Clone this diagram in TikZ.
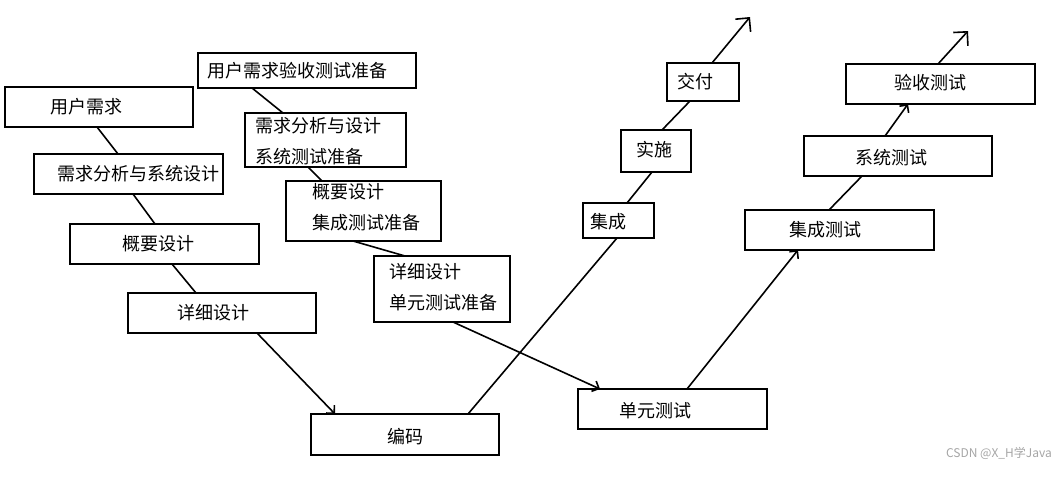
\documentclass[tikz,border=0pt]{standalone}
\usepackage{fontspec}
\newfontfamily\cjk{Noto Sans CJK SC}
\usetikzlibrary{arrows.meta}
\newcommand\mybox[5]{\node[box,minimum width={(#4-#2)*1pt},minimum height={(#5-#3)*1pt}] (#1) at (#2,#3) {};}
\begin{document}
\begin{tikzpicture}[x=1pt,y=-1pt,
  box/.style={draw,line width=1.8pt,inner sep=0pt,outer sep=0pt,anchor=north west},
  txt/.style={inner sep=0pt,anchor=west,align=left,font={\cjk\fontsize{18}{31}\selectfont}},
  conn/.style={line width=1.6pt},
  bigtip/.style={-{Straight Barb[angle=90:14pt]}},
  smalltip/.style={-{Straight Barb[angle=90:8pt]}}]
\useasboundingbox (0,0) rectangle (1054,482);
\fill[white] (0,0) rectangle (1054,482);
% boxes
\mybox{b1}{5}{87}{193}{127}
\mybox{b2}{34}{154}{223}{194}
\mybox{b3}{70}{224}{259}{264}
\mybox{b4}{128}{293}{316}{333}
\mybox{b5}{198}{53}{416}{88}
\mybox{b6}{245}{113}{406}{167}
\mybox{b7}{286}{181}{441}{241}
\mybox{b8}{374}{256}{510}{322}
\mybox{b9}{311}{414}{499}{455}
\mybox{b10}{578}{389}{767}{429}
\mybox{b11}{583}{203}{654}{238}
\mybox{b12}{621}{130}{691}{172}
\mybox{b13}{667}{63}{739}{101}
\mybox{b14}{745}{210}{934}{250}
\mybox{b15}{804}{136}{992}{176}
\mybox{b16}{846}{64}{1035}{104}
% texts
\node[txt] (t1) at (50,107) {用户需求};
\node[txt] (t2) at (57,174) {需求分析与系统设计};
\node[txt] (t3) at (122,244) {概要设计};
\node[txt] (t4) at (177,313) {详细设计};
\node[txt] (t5) at (207,71) {用户需求验收测试准备};
\node[txt] (t6) at (255,141.5) {需求分析与设计\\系统测试准备};
\node[txt] (t7) at (312,207.5) {概要设计\\集成测试准备};
\node[txt] (t8) at (389,287.5) {详细设计\\单元测试准备};
\node[txt] (t9) at (387,437) {编码};
\node[txt] (t10) at (619,411) {单元测试};
\node[txt] (t11) at (590,222) {集成};
\node[txt] (t12) at (636,150) {实施};
\node[txt] (t13) at (677,82) {交付};
\node[txt] (t14) at (789,230) {集成测试};
\node[txt] (t15) at (855,158) {系统测试};
\node[txt] (t16) at (894,83) {验收测试};
% end points of the open arrows
\coordinate (e1) at (750,17);
\coordinate (e2) at (968,31);
% connectors
\draw[conn] ([xshift=92pt]b1.south west) -- ([xshift=84pt]b2.north west);
\draw[conn] ([xshift=99pt]b2.south west) -- ([xshift=85pt]b3.north west);
\draw[conn] ([xshift=102pt]b3.south west) -- ([xshift=68pt]b4.north west);
\draw[conn,smalltip] ([xshift=129pt]b4.south west) -- ([xshift=24pt]b9.north west);
\draw[conn] ([xshift=54pt]b5.south west) -- ([xshift=38pt]b6.north west);
\draw[conn] ([xshift=63pt]b6.south west) -- ([xshift=36pt]b7.north west);
\draw[conn] ([xshift=67pt]b7.south west) -- ([xshift=31pt]b8.north west);
\draw[conn,smalltip] ([xshift=79pt]b8.south west) -- ([xshift=22pt]b10.north west);
\draw[conn] ([xshift=157pt]b9.north west) -- ([xshift=34pt]b11.south west);
\draw[conn] ([xshift=44pt]b11.north west) -- ([xshift=31pt]b12.south west);
\draw[conn] ([xshift=41pt]b12.north west) -- ([xshift=23pt]b13.south west);
\draw[conn,bigtip] ([xshift=45pt]b13.north west) -- (e1);
\draw[conn,smalltip] ([xshift=109pt]b10.north west) -- ([xshift=53pt]b14.south west);
\draw[conn] ([xshift=84pt]b14.north west) -- ([xshift=58pt]b15.south west);
\draw[conn,smalltip] ([xshift=81pt]b15.north west) -- ([xshift=62pt]b16.south west);
\draw[conn,bigtip] ([xshift=92pt]b16.north west) -- (e2);
% watermark
\node[inner sep=0pt,anchor=east,text=black!35,font={\cjk\fontsize{12}{14}\selectfont}] (wm) at (1052,453) {CSDN @X\_H学Java};
\end{tikzpicture}
\end{document}
